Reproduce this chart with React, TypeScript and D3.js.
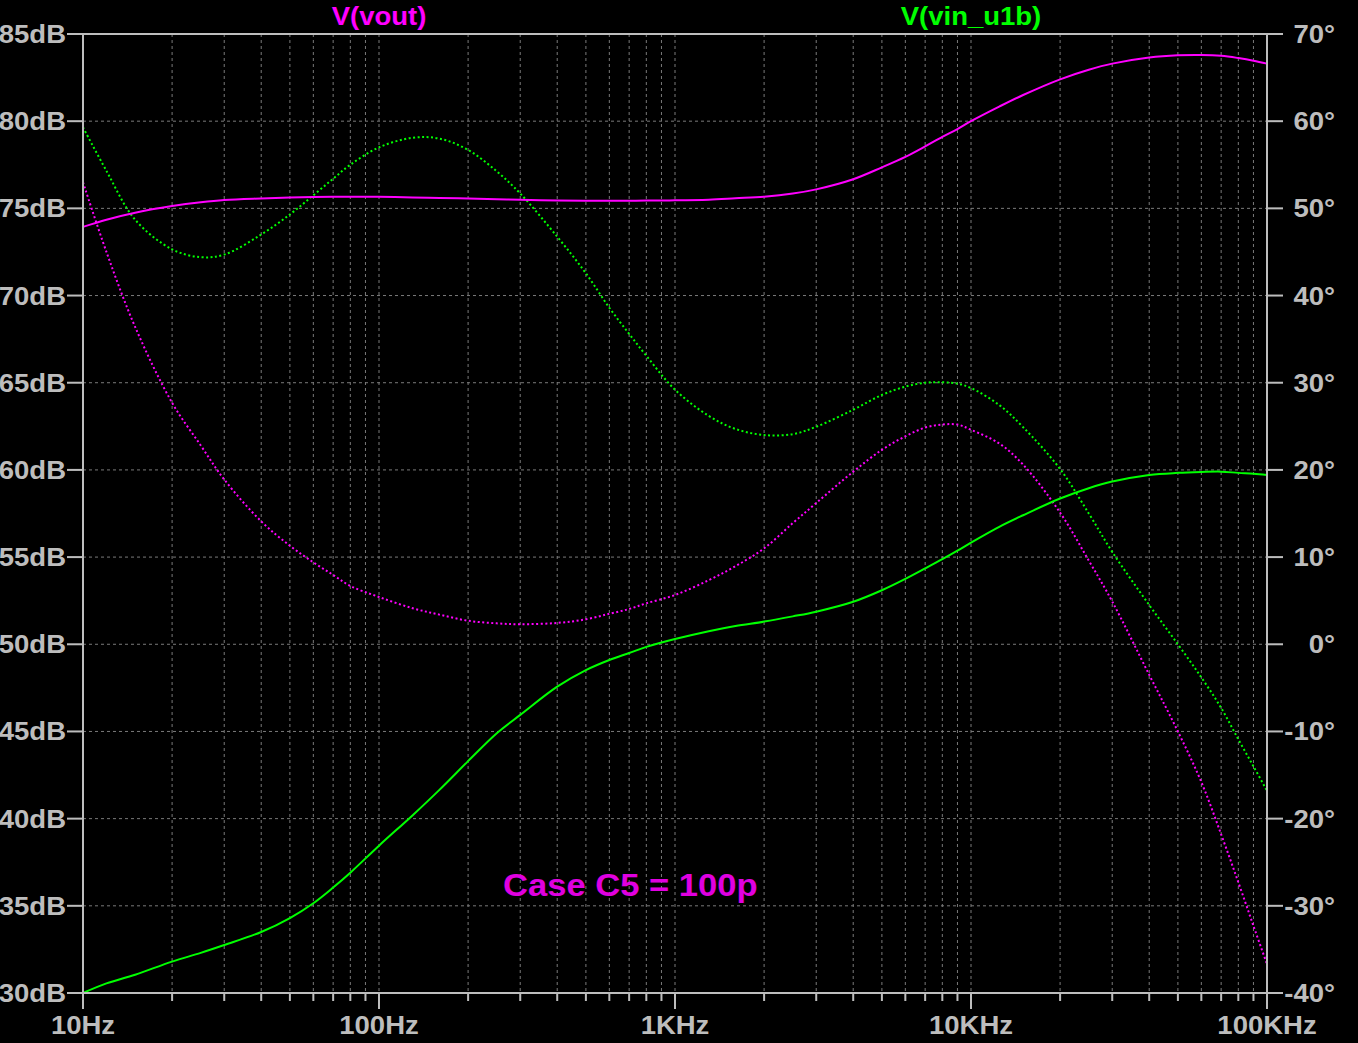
import React from "react";
import * as d3 from "d3";

// frequency points (Hz) the traces were read at
const freqs = [10, 12, 15, 20, 25, 30, 40, 50, 60, 70, 80, 100, 130, 160, 200, 250, 300, 400, 500, 600, 700, 800,
  1000, 1300, 1600, 2000, 2500, 3000, 4000, 5000, 6000, 7000, 8000, 9000, 10000, 12500, 15000, 20000, 25000, 30000,
  40000, 50000, 60000, 70000, 80000, 90000, 100000];

// V(vout) magnitude, dB
const voutMag = [73.94, 74.35, 74.75, 75.13, 75.35, 75.48, 75.57, 75.62, 75.65, 75.66, 75.67, 75.66, 75.63, 75.6, 75.57,
  75.52, 75.49, 75.45, 75.44, 75.44, 75.44, 75.45, 75.46, 75.5, 75.58, 75.67, 75.85, 76.09, 76.67, 77.35, 77.95, 78.55,
  79.1, 79.55, 80.0, 80.85, 81.5, 82.4, 82.95, 83.3, 83.65, 83.78, 83.8, 83.75, 83.62, 83.47, 83.3];

// V(vout) phase, degrees
const voutPhase = [53.0, 45.0, 36.4, 27.7, 22.8, 18.9, 14.1, 11.3, 9.4, 7.95, 6.7, 5.42, 4.13, 3.4, 2.7, 2.4, 2.3, 2.45,
  2.86, 3.5, 4.05, 4.7, 5.65, 7.35, 8.95, 11.0, 13.9, 16.2, 19.8, 22.3, 23.85, 24.85, 25.2, 25.2, 24.6, 23.0, 20.6, 15.1,
  9.6, 4.9, -3.5, -10.0, -15.8, -21.8, -27.3, -32.3, -36.7];

// V(vin_u1b) magnitude, dB
const vinMag = [30.0, 30.55, 31.05, 31.8, 32.3, 32.75, 33.5, 34.3, 35.15, 36.05, 36.9, 38.45, 40.2, 41.65, 43.3, 44.9,
  45.95, 47.57, 48.52, 49.1, 49.5, 49.85, 50.3, 50.75, 51.05, 51.3, 51.6, 51.87, 52.44, 53.1, 53.75, 54.35, 54.88, 55.37,
  55.83, 56.75, 57.4, 58.36, 58.95, 59.33, 59.71, 59.83, 59.88, 59.9, 59.83, 59.78, 59.71];

// V(vin_u1b) phase, degrees
const vinPhase = [59.3, 54.3, 48.7, 45.3, 44.4, 44.7, 47.0, 49.3, 51.5, 53.4, 55.0, 57.0, 58.1, 58.0, 56.7, 54.24, 51.7,
  46.75, 42.55, 38.6, 35.6, 33.1, 29.2, 26.2, 24.7, 24.0, 24.1, 24.95, 26.9, 28.6, 29.55, 30.0, 30.05, 29.9, 29.4, 27.4,
  24.9, 20.1, 15.0, 10.6, 4.5, 0.0, -3.8, -7.3, -10.9, -14.0, -16.8];

const dbTicks = [30, 35, 40, 45, 50, 55, 60, 65, 70, 75, 80, 85];
const degTicks = [-40, -30, -20, -10, 0, 10, 20, 30, 40, 50, 60, 70];
const decades = [10, 100, 1000, 10000, 100000];
const decadeLabels = ["10Hz", "100Hz", "1KHz", "10KHz", "100KHz"];

const W = 1358;
const H = 1043;
const margin = { top: 34, right: 91, bottom: 50, left: 83 };

const x = d3.scaleLog().domain([10, 100000]).range([margin.left, W - margin.right]);
const yDb = d3.scaleLinear().domain([30, 85]).range([H - margin.bottom, margin.top]);
const yDeg = d3.scaleLinear().domain([-40, 70]).range([H - margin.bottom, margin.top]);

const axisColor = "#bdbdbd";
const gridColor = "#7a7a7a";
const font = "'Liberation Sans', Arial, sans-serif";

const lineDb = d3.line<number>().x((_, i) => x(freqs[i])).y((d) => yDb(d)).curve(d3.curveCatmullRom.alpha(0.5));
const lineDeg = d3.line<number>().x((_, i) => x(freqs[i])).y((d) => yDeg(d)).curve(d3.curveCatmullRom.alpha(0.5));

// LTspice's bold labels run a little wider than Liberation Sans, so stretch them
function Label(props: { x: number; y: number; anchor?: string; fill?: string; size?: number; sx?: number; children: any }) {
  const { x, y, anchor = "middle", fill = axisColor, size = 25, sx = 1.1, children } = props;
  return (
    <text transform={`translate(${x},${y}) scale(${sx},1)`} textAnchor={anchor} fill={fill}
      fontFamily={font} fontWeight="bold" fontSize={size}>
      {children}
    </text>
  );
}

export default function App() {
  const [x0, x1] = x.range();
  const [y0, y1] = [yDb(85), yDb(30)];
  const minor = x.ticks();

  return (
    <svg width={W} height={H} style={{ position: "absolute", left: 0, top: 0, display: "block", background: "#000" }}>
      <rect width={W} height={H} fill="#000" />

      {/* grid */}
      {minor.filter((f) => f > 10 && f < 100000).map((f) => (
        <line key={"v" + f} x1={x(f)} x2={x(f)} y1={y0} y2={y1} stroke={gridColor} strokeDasharray="3,3" />
      ))}
      {dbTicks.filter((d) => d > 30 && d < 85).map((d) => (
        <line key={"h" + d} x1={x0} x2={x1} y1={yDb(d)} y2={yDb(d)} stroke={gridColor} strokeDasharray="3,3" />
      ))}

      {/* traces */}
      <path d={lineDeg(voutPhase) || ""} fill="none" stroke="#ff00ff" strokeWidth={2} strokeDasharray="2,2.5" />
      <path d={lineDeg(vinPhase) || ""} fill="none" stroke="#00ff00" strokeWidth={2} strokeDasharray="2,2.5" />
      <path d={lineDb(voutMag) || ""} fill="none" stroke="#ff00ff" strokeWidth={2} />
      <path d={lineDb(vinMag) || ""} fill="none" stroke="#00ff00" strokeWidth={2} />

      {/* frame */}
      <rect x={x0} y={y0} width={x1 - x0} height={y1 - y0} fill="none" stroke={axisColor} strokeWidth={2} />

      {/* left axis */}
      {dbTicks.map((d) => (
        <g key={"l" + d}>
          <line x1={x0 - 16} x2={x0} y1={yDb(d)} y2={yDb(d)} stroke={axisColor} strokeWidth={2} />
          <Label x={x0 - 17} y={yDb(d) + 9} anchor="end">{d + "dB"}</Label>
        </g>
      ))}

      {/* right axis */}
      {degTicks.map((d) => (
        <g key={"r" + d}>
          <line x1={x1} x2={x1 + 16} y1={yDeg(d)} y2={yDeg(d)} stroke={axisColor} strokeWidth={2} />
          <Label x={1335} y={yDeg(d) + 9} anchor="end">{d + "°"}</Label>
        </g>
      ))}

      {/* bottom axis */}
      {minor.map((f) => {
        const major = decades.includes(f);
        return (
          <line key={"b" + f} x1={x(f)} x2={x(f)} y1={y1} y2={y1 + (major ? 16 : 8)} stroke={axisColor} strokeWidth={2} />
        );
      })}
      {decades.map((f, i) => (
        <Label key={"bl" + f} x={x(f)} y={1034}>{decadeLabels[i]}</Label>
      ))}

      {/* trace titles */}
      <Label x={x(100)} y={25} fill="#ff00ff">V(vout)</Label>
      <Label x={x(10000)} y={25} fill="#00ff00">V(vin_u1b)</Label>

      <Label x={503} y={896} anchor="start" fill="#e000e0" size={32} sx={1.08}>Case C5 = 100p</Label>
    </svg>
  );
}
